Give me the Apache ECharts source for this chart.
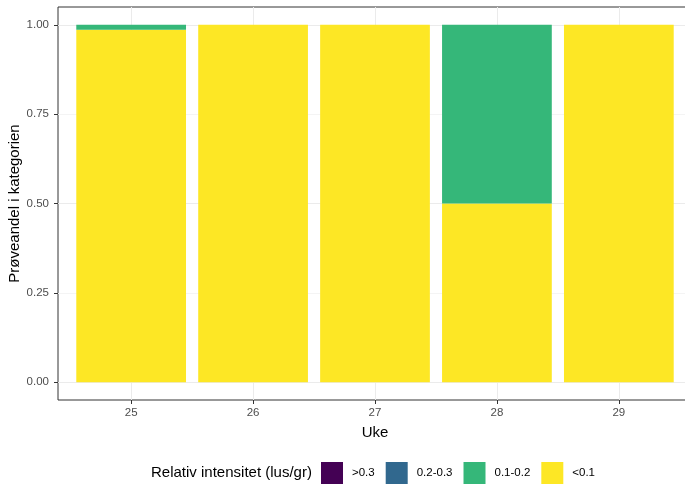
<!DOCTYPE html>
<html>
<head>
<meta charset="utf-8">
<script src="https://cdn.jsdelivr.net/npm/echarts@6/dist/echarts.min.js"></script>
<style>html,body{margin:0;padding:0;background:#fff}#c{width:685px;height:486px}</style>
</head>
<body>
<div id="c"></div>
<script>
var weeks = ['25', '26', '27', '28', '29'];
var weekNums = [25, 26, 27, 28, 29];
var catLabels = ['>0.3', '0.2-0.3', '0.1-0.2', '<0.1'];
var valLt01 = [0.986, 1, 1, 0.5, 1];
var val01_02 = [0.014, 0, 0, 0.5, 0];
var val02_03 = [0, 0, 0, 0, 0];
var valGt03 = [0, 0, 0, 0, 0];
var yTicks = [0, 0.25, 0.5, 0.75, 1];
var colors = {'>0.3': '#440154', '0.2-0.3': '#31688E', '0.1-0.2': '#35B779', '<0.1': '#FDE725'};

var FONT = '"Liberation Sans", Arial, sans-serif';
// panel geometry (ggplot-style expansion: 0.6 category units each side, 5% on y)
var PL = 58, PT = 7, PW = 634, PH = 393;
var unit = PW / (weeks.length + 0.2);
var yUnit = PH / 1.1;
var y1Top = PT + 0.05 * yUnit;
function mk(name, vals) {
  return {
    name: name, type: 'bar', stack: 'a', barWidth: '90%',
    xAxisIndex: 3, yAxisIndex: 3,
    itemStyle: {color: colors[name]},
    data: vals,
    emphasis: {disabled: true}
  };
}
var hidden = {axisLine: {show: false}, axisTick: {show: false}, axisLabel: {show: false}, splitLine: {show: false}};
function hid(o) { return Object.assign({}, hidden, o); }
var chart = echarts.init(document.getElementById('c'));
chart.setOption({
  animation: false,
  textStyle: {fontFamily: FONT},
  grid: [
    {left: PL, top: PT, width: PW, height: PH, show: true, borderColor: '#333333', borderWidth: 1, containLabel: false, outerBoundsMode: 'none'},
    {left: PL, top: y1Top, width: PW, height: yUnit, containLabel: false, outerBoundsMode: 'none'},
    {left: PL + 0.6 * unit, top: PT, width: (weeks.length - 1) * unit, height: PH, containLabel: false, outerBoundsMode: 'none'},
    {left: PL + 0.1 * unit, top: PT, width: weeks.length * unit, height: PH, containLabel: false, outerBoundsMode: 'none'}
  ],
  title: {text: 'Relativ intensitet (lus/gr)', left: 146, top: 460, textStyle: {fontFamily: FONT, fontSize: 15, fontWeight: 'normal', color: '#000'}},
  legend: {
    data: catLabels, left: 321, top: 462, padding: 0, itemWidth: 22, itemHeight: 22, itemGap: 11,
    icon: 'rect',
    textStyle: {fontFamily: FONT, fontSize: 11.5, color: '#000', padding: [0, 0, 0, 4]}
  },
  xAxis: [
    hid({gridIndex: 0, type: 'value', min: 0, max: 1}),
    hid({gridIndex: 1, type: 'value', min: 0, max: 1}),
    hid({gridIndex: 2, type: 'value', min: weekNums[0], max: weekNums[weekNums.length - 1], interval: 1,
      axisTick: {show: true, length: 4, lineStyle: {color: '#333'}},
      splitLine: {show: true, lineStyle: {color: '#ebebeb', width: 1}}}),
    {
      gridIndex: 3, type: 'category', data: weeks, boundaryGap: true,
      name: 'Uke', nameLocation: 'middle', nameGap: 25, nameMoveOverlap: false,
      nameTextStyle: {fontFamily: FONT, fontSize: 15, color: '#000'},
      axisLine: {show: false, onZero: false},
      axisTick: {show: false},
      axisLabel: {color: '#4d4d4d', fontSize: 11.5, margin: 7},
      splitLine: {show: false}
    }
  ],
  yAxis: [
    hid({gridIndex: 0, type: 'value', min: 0, max: 1}),
    {
      gridIndex: 1, type: 'value', min: 0, max: 1, interval: 0.125,
      name: 'Prøveandel i kategorien', nameLocation: 'middle', nameGap: 36, nameMoveOverlap: false,
      nameTextStyle: {fontFamily: FONT, fontSize: 15, color: '#000'},
      axisLine: {show: false, onZero: false},
      axisTick: {show: true, length: 4, lineStyle: {color: '#333'}, customValues: yTicks},
      axisLabel: {color: '#4d4d4d', fontSize: 11.5, margin: 9, customValues: yTicks,
        formatter: function (v) { return Number(v).toFixed(2); }},
      splitLine: {show: true, lineStyle: {color: ['#ebebeb', '#f4f4f4'], width: 1}}
    },
    hid({gridIndex: 2, type: 'value', min: 0, max: 1}),
    hid({gridIndex: 3, type: 'value', min: -0.05, max: 1.05})
  ],
  series: [
    mk('<0.1', valLt01),
    mk('0.1-0.2', val01_02),
    mk('0.2-0.3', val02_03),
    mk('>0.3', valGt03)
  ]
});
</script>
</body>
</html>
